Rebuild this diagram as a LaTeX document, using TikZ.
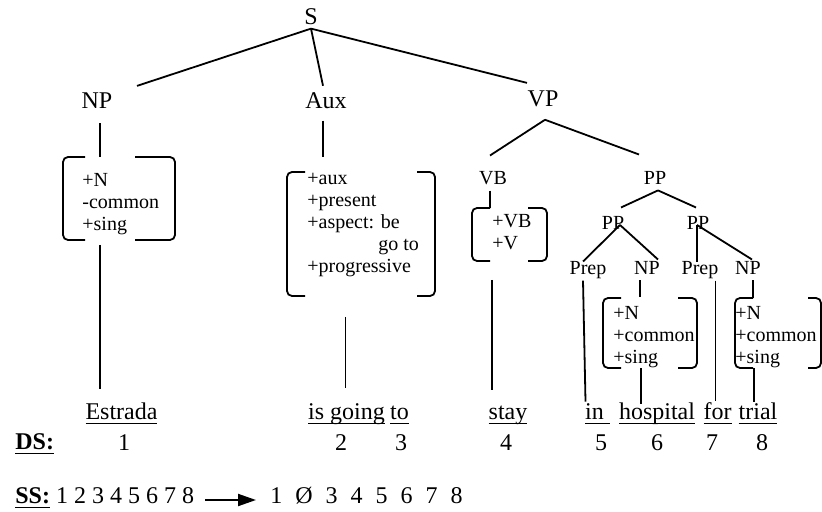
\documentclass[tikz,border=0pt]{standalone}
\usepackage{fontspec}
\setmainfont{Liberation Serif}
\usetikzlibrary{calc,arrows.meta}

\newcommand{\undl}[1]{\setbox0\hbox{#1}\rlap{\rule[-2.4pt]{\wd0}{0.6pt}}\box0\relax}
\newcommand{\sqgap}{\hspace{6.5pt}}
\newcommand{\featbr}[3]{%
  \draw[brk] ($(#1.north west)+(#2,0)$) -- (#1.north west) -- (#1.south west) -- ($(#1.south west)+(#2,0)$);
  \draw[brk] ($(#1.north east)+(-#3,0)$) -- (#1.north east) -- (#1.south east) -- ($(#1.south east)+(-#3,0)$);}

\tikzset{
  lab/.style={anchor=base, inner sep=1.5pt, font=\fontsize{12}{14}\selectfont},
  sublab/.style={anchor=base, inner sep=1.5pt, font=\fontsize{10}{12}\selectfont},
  feat/.style={anchor=base west, align=left, inner sep=0pt, font=\fontsize{10}{11}\selectfont},
  brbox/.style={anchor=north west, inner sep=0pt, outer sep=0pt},
  word/.style={anchor=base, inner sep=1.5pt, font=\fontsize{12}{14}\selectfont},
  edge/.style={line width=0.9pt},
  brk/.style={line width=0.9pt, rounded corners=2.5pt},
  arr/.style={line width=1pt, -{Triangle[length=9pt, width=6pt]}}
}

\begin{document}
\begin{tikzpicture}[x=0.5pt, y=-0.5pt]
\useasboundingbox (0,0) rectangle (822,512);

% tree labels
\node[lab] (s) at (311,25) {S};
\node[lab] (np) at (97,109) {NP};
\node[lab] (aux) at (326,109) {Aux};
\node[lab] (vp) at (543,107) {VP};
\node[sublab] (vb) at (493,185) {VB};
\node[sublab] (pp) at (655,185) {PP};
\node[sublab] (ppl) at (613,230) {PP};
\node[sublab] (ppr) at (698,230) {PP};
\node[sublab] (prepa) at (588,275) {Prep};
\node[sublab] (npa) at (647,275) {NP};
\node[sublab] (prepb) at (700,275) {Prep};
\node[sublab] (npb) at (748,275) {NP};

% feature bundles (base = last line)
\node[brbox, minimum width=56pt, minimum height=41.5pt] (bnp) at (63,157) {};
\node[feat] (fnp) at (82,231) {+N\\-common\\+sing};
\node[brbox, minimum width=74pt, minimum height=62pt] (baux) at (287,172) {};
\node[feat] (faux) at (307,273) {+aux\\+present\\+aspect: be\\\hspace*{35.5pt}go to\\+progressive};
\node[brbox, minimum width=37.5pt, minimum height=26.5pt] (bvb) at (472,208) {};
\node[feat] (fvb) at (492,250) {+VB\\+V};
\node[brbox, minimum width=47pt, minimum height=35pt] (bnpa) at (603,298) {};
\node[feat] (fnpa) at (613,364) {+N\\+common\\+sing};
\node[brbox, minimum width=43pt, minimum height=35pt] (bnpb) at (735,298) {};
\node[feat] (fnpb) at (735,364) {+N\\+common\\+sing};

\featbr{bnp}{22}{40}
\featbr{baux}{18}{18}
\featbr{bvb}{18}{19}
\featbr{bnpa}{18}{19}
\featbr{bnpb}{18}{13}

% words
\node[word] (w1) at (121.5,419) {\undl{Estrada}};
\node[word] (w2) at (346.5,419) {\undl{is going}};
\node[word] (w3) at (399.5,419) {\undl{to}};
\node[word] (w4) at (508,419) {\undl{stay}};
\node[word] (w5) at (597.5,419) {\undl{in\ }};
\node[word] (w6) at (657,419) {\undl{hospital}};
\node[word] (w7) at (717.5,419) {\undl{for}};
\node[word] (w8) at (758,419) {\undl{trial}};

% numbers
\node[word] (n1) at (124,450) {1};
\node[word] (n2) at (341,450) {2};
\node[word] (n3) at (401,450) {3};
\node[word] (n4) at (506,450) {4};
\node[word] (n5) at (601,450) {5};
\node[word] (n6) at (657,450) {6};
\node[word] (n7) at (712,450) {7};
\node[word] (n8) at (762,450) {8};

\node[word, anchor=base west] (ds) at (12,449) {\undl{\textbf{DS:}}};
\node[word, anchor=base west] (ss) at (12,503) {\undl{\textbf{SS:}} 1 2 3 4 5 6 7 8};
\node[word, anchor=base west] (ssb) at (267,503) {1\sqgap Ø\sqgap 3\sqgap 4\sqgap 5\sqgap 6\sqgap 7\sqgap 8};
\draw[arr] ($(ss.base east)+(8,-3)$) -- ($(ssb.base west)+(-11,-3)$);

% tree edges
\draw[edge] (s.south) -- ($(np.north)+(40,-4)$);
\draw[edge] (s.south) -- ($(aux.north)+(-3,-4)$);
\draw[edge] (s.south) -- ($(vp.north)+(-16,-5)$);
\draw[edge] ($(vp.south)+(2,9)$) -- ($(vb.north)+(-3,-13)$);
\draw[edge] ($(vp.south)+(2,9)$) -- ($(pp.north)+(-16,-14)$);
\draw[edge] ($(pp.south)+(3,2)$) -- ($(ppl.north)+(8,-6)$);
\draw[edge] ($(pp.south)+(3,2)$) -- ($(ppr.north)+(-2,-6)$);
\draw[edge] ($(ppl.base)+(7,-5)$) -- ($(prepa.north)+(-5,3)$);
\draw[edge] ($(ppl.base)+(7,-5)$) -- ($(npa.north)+(11,1)$);
\draw[edge] ($(ppr.base)+(-1,-5)$) -- ($(ppr.base |- prepb.north)+(-1,3)$);
\draw[edge] ($(ppr.base)+(-1,-5)$) -- ($(npb.north)+(4,1)$);

% down to the features
\draw[edge] ($(np.south)+(3,11)$) -- ($(np.south |- bnp.north)+(3,0)$);
\draw[edge] ($(aux.south)+(-3,8)$) -- ($(aux.south |- baux.north)+(-3,-15)$);
\draw[edge] ($(vb.south)+(-3,2)$) -- ($(vb.south |- bvb.north)+(-3,0)$);
\draw[edge] ($(npa.south)+(-7,2)$) -- ($(npa.south |- bnpa.north)+(-7,-1)$);
\draw[edge] ($(npb.south)+(5,2)$) -- ($(npb.south |- bnpb.north)+(5,0)$);

% down to the words
\draw[edge] ($(np.south |- bnp.south)+(3,5)$) -- ($(np.south |- w1.north)+(3,-10)$);
\draw[edge] ($(w2.north |- baux.south)+(-1,21)$) -- ($(w2.north)+(-1,-12)$);
\draw[edge] ($(vb.south |- bvb.south)+(-1,19)$) -- ($(vb.south |- w4.north)+(-1,-12)$);
\draw[edge] ($(prepa.south)+(-5,-2)$) -- ($(w5.north)+(-12,2)$);
\draw[edge] ($(npa.south |- bnpa.south)+(-6,0)$) -- ($(npa.south |- w6.north)+(-6,5)$);
\draw[edge] ($(w7.north |- prepb.south)+(-2,-2)$) -- ($(w7.north)+(-2,2)$);
\draw[edge] ($(npb.south |- bnpb.south)+(6,0)$) -- ($(npb.south |- w8.north)+(6,3)$);
\end{tikzpicture}
\end{document}
